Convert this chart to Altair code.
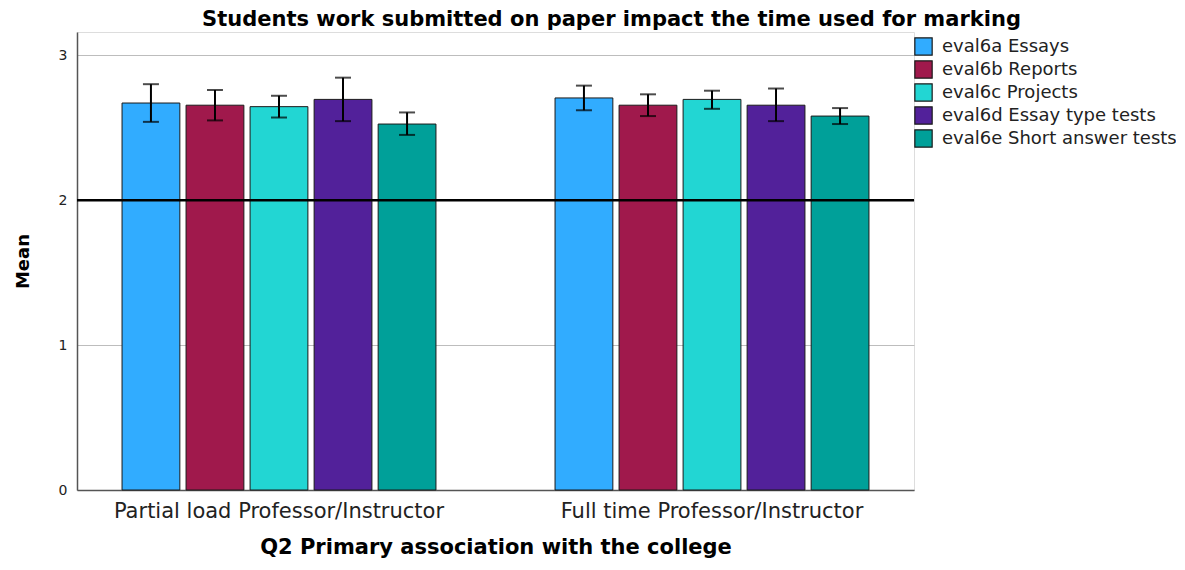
import altair as alt
import pandas as pd

groups = ["Partial load Professor/Instructor", "Full time Professor/Instructor"]
series = ["eval6a Essays", "eval6b Reports", "eval6c Projects",
          "eval6d Essay type tests", "eval6e Short answer tests"]
colors = ["#31acff", "#a0194c", "#22d6d3", "#52219a", "#00a099"]

means_partial = [2.67, 2.655, 2.645, 2.695, 2.525]
low_partial = [2.54, 2.55, 2.57, 2.545, 2.45]
high_partial = [2.80, 2.76, 2.72, 2.845, 2.605]

means_full = [2.705, 2.655, 2.695, 2.655, 2.58]
low_full = [2.62, 2.58, 2.63, 2.545, 2.525]
high_full = [2.79, 2.73, 2.755, 2.77, 2.635]

ref_value = [2]
y_ticks = [0, 1, 2, 3]

rows = []
for g, m, lo, hi in [(groups[0], means_partial, low_partial, high_partial),
                     (groups[1], means_full, low_full, high_full)]:
    for s, mv, lv, hv in zip(series, m, lo, hi):
        rows.append({"group": g, "series": s, "mean": mv, "low": lv, "high": hv})
df = pd.DataFrame(rows)
ref_df = pd.DataFrame({"ref": ref_value})

FONT = "DejaVu Sans"

x_enc = alt.X("group:N", sort=groups,
              scale=alt.Scale(paddingInner=0.275, paddingOuter=0.104),
              axis=alt.Axis(title="Q2 Primary association with the college",
                            labelAngle=0, labelFontSize=21, labelFont=FONT,
                            labelColor="#222222", labelPadding=10, ticks=False,
                            labelLimit=1000,
                            titleFontSize=21, titleFont=FONT, titleFontWeight="bold",
                            titleColor="black", titlePadding=15,
                            domainColor="#555555", domainWidth=1.5, grid=False))
xo_enc = alt.XOffset("series:N", sort=series,
                     scale=alt.Scale(paddingInner=0.097, paddingOuter=0))
y_scale = alt.Scale(domain=[0, 3.16], nice=False, zero=True)

bars = alt.Chart(df).mark_bar(stroke="#1a1a1a", strokeWidth=1).encode(
    x=x_enc,
    xOffset=xo_enc,
    y=alt.Y("mean:Q", scale=y_scale,
            axis=alt.Axis(title="Mean", values=y_ticks, format="d",
                          labelFontSize=14, labelFont=FONT, labelColor="#222222",
                          labelPadding=10, ticks=False,
                          titleFontSize=18, titleFont=FONT, titleFontWeight="bold",
                          titleColor="black", titlePadding=26,
                          domainColor="#555555", domainWidth=1.5,
                          grid=True, gridColor="#bdbdbd", gridWidth=1)),
    color=alt.Color("series:N", sort=series,
                    scale=alt.Scale(domain=series, range=colors),
                    legend=alt.Legend(title=None, orient="none", legendX=837, legendY=5,
                                      symbolType="square", symbolSize=300,
                                      symbolStrokeColor="#1a1a1a", symbolStrokeWidth=1.2,
                                      labelFontSize=18, labelFont=FONT, labelColor="#222222",
                                      labelOffset=9, rowPadding=0, padding=0,
                                      labelLimit=400))
)

err = alt.Chart(df).mark_rule(color="black", strokeWidth=2).encode(
    x=alt.X("group:N", sort=groups), xOffset=xo_enc,
    y=alt.Y("low:Q", scale=y_scale), y2="high:Q")

cap_lo = alt.Chart(df).mark_tick(color="black", thickness=2, size=16).encode(
    x=alt.X("group:N", sort=groups), xOffset=xo_enc,
    y=alt.Y("low:Q", scale=y_scale))
cap_hi = alt.Chart(df).mark_tick(color="black", thickness=2, size=16).encode(
    x=alt.X("group:N", sort=groups), xOffset=xo_enc,
    y=alt.Y("high:Q", scale=y_scale))

ref = alt.Chart(ref_df).mark_rule(color="black", strokeWidth=2.5).encode(
    y=alt.Y("ref:Q", scale=y_scale))

chart = alt.layer(bars, err, cap_lo, cap_hi, ref).properties(
    width=837, height=458,
    title=alt.TitleParams(
        text="Students work submitted on paper impact the time used for marking",
        anchor="middle", frame="group", dx=116, offset=2,
        fontSize=21, font=FONT, fontWeight="bold", color="black"),
    autosize=alt.AutoSizeParams(type="none"),
    padding={"left": 69, "top": 24, "right": 262, "bottom": 70},
).configure_view(stroke=None).configure(background="white")

chart.save("out.html", embed_options={"renderer": "svg", "actions": False})
